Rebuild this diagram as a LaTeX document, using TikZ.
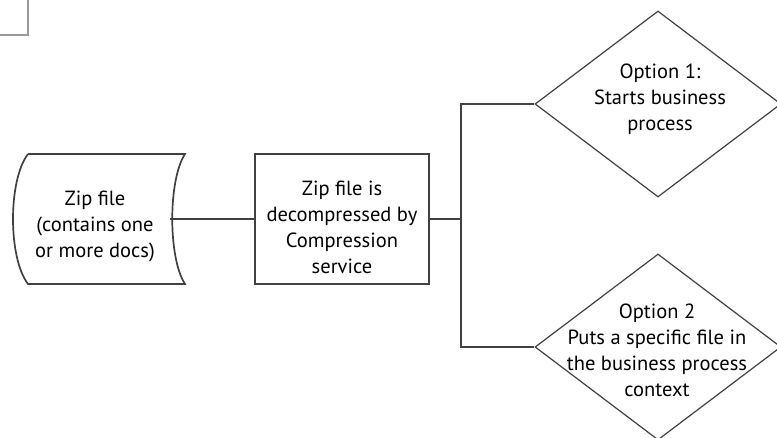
\documentclass[tikz,border=0pt]{standalone}
\usepackage{fontspec}
\setmainfont{PT Sans}
\usetikzlibrary{shapes.geometric}
\definecolor{ink}{HTML}{404040}
\tikzset{
  lbl/.style={align=center, font=\fontsize{20.5}{26}\selectfont, text=black, inner sep=0pt},
  edge/.style={draw=ink, line width=1.7pt},
  thin/.style={draw=ink, line width=1.2pt},
  choice/.style={diamond, thin, minimum width=246pt, minimum height=186pt, inner sep=0pt},
}
\begin{document}
\begin{tikzpicture}[x=1pt, y=-1pt]
\useasboundingbox (0,0) rectangle (777,438);
\begin{scope}
\clip (0,0) rectangle (777,438);
% partly visible box at the corner
\draw[edge, draw=gray!80] (-20,-20) rectangle (28,35);

% data shape (stored file)
\draw[edge] (28,154) -- (185,154)
  .. controls (168,180) and (168,258) .. (185,284)
  -- (28,284)
  .. controls (8,258) and (8,180) .. (28,154);
\coordinate (zipR) at (170,219);
\node[lbl] (zip) at (95,226) {Zip file\\(contains one\\or more docs)};

% process box
\node[edge, rectangle, minimum width=174pt, minimum height=130pt, inner sep=0pt] (proc) at (342,219) {};
\node[lbl] (proctext) at (342,227) {Zip file is\\decompressed by\\Compression\\service};

% decisions
\node[choice] (opt1) at (658,104) {};
\node[lbl] (opt1text) at (660,99) {Option 1:\\Starts business\\process};
\node[choice] (opt2) at (658,347) {};
\node[lbl] (opt2text) at (657,350) {Option 2\\Puts a specific file in\\the business process\\context};

\coordinate (fork) at (461,219);

% connectors
\draw[edge, line width=1.3pt] (zipR) -- (proc.west);
\draw[edge] (proc.east) -- (fork);
\draw[edge] (fork) |- (opt1.west);
\draw[edge] (fork) |- (opt2.west);
\end{scope}
\end{tikzpicture}
\end{document}
